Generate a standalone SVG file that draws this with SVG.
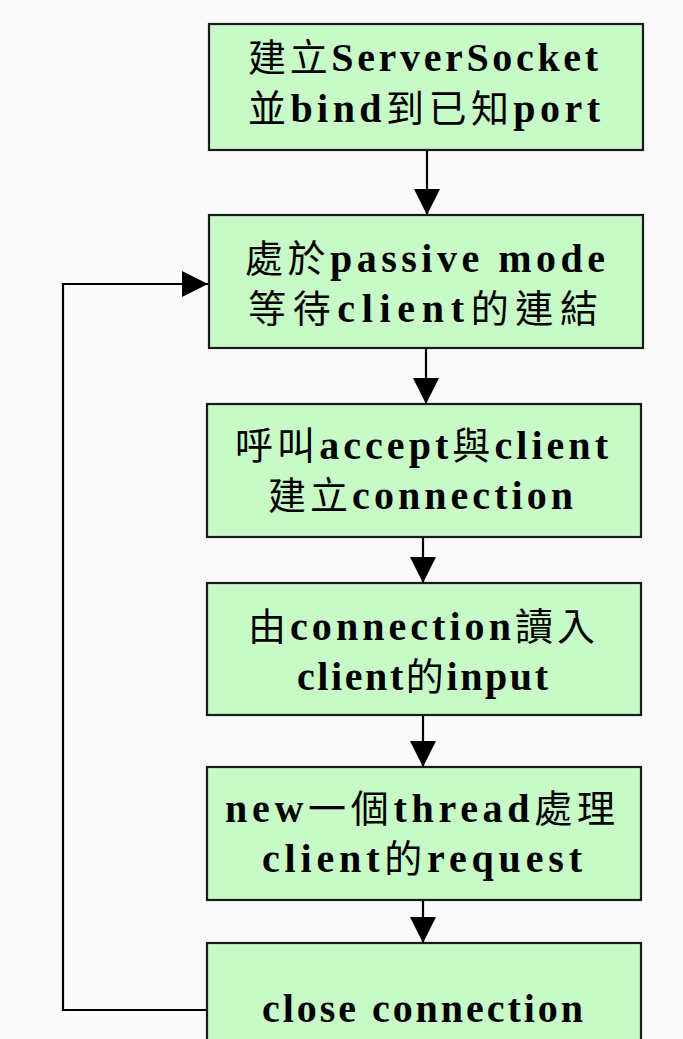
<svg xmlns="http://www.w3.org/2000/svg" width="683" height="1039" viewBox="0 0 683 1039">
<defs>
<style>
.box{fill:#c8fac8;stroke:#1a1a1a;stroke-width:2.2}
.t{fill:#000;font-family:"Liberation Serif","Noto Sans CJK TC",serif}
.lat{font-family:"Liberation Serif",serif;font-weight:bold;font-size:40px}
.cjk{font-family:"Noto Sans CJK TC","Noto Sans CJK SC",sans-serif;font-weight:normal;font-size:38px}
.edge{fill:none;stroke:#000;stroke-width:2.2}
</style>
<marker id="ah" viewBox="0 0 26 26" refX="26" refY="13" markerWidth="26" markerHeight="26" markerUnits="userSpaceOnUse" orient="auto">
<path d="M0,0 L26,13 L0,26 z" fill="#000"/>
</marker>
</defs>
<rect x="0" y="0" width="683" height="1039" fill="#fafafa"/>
<g id="connectors">
<line class="edge" x1="427" y1="150" x2="427" y2="215" marker-end="url(#ah)"/>
<line class="edge" x1="426" y1="348" x2="426" y2="404" marker-end="url(#ah)"/>
<line class="edge" x1="423" y1="537" x2="423" y2="583" marker-end="url(#ah)"/>
<line class="edge" x1="423" y1="715" x2="423" y2="767" marker-end="url(#ah)"/>
<line class="edge" x1="423" y1="900" x2="423" y2="943" marker-end="url(#ah)"/>
<polyline class="edge" points="207,1010 63,1010 63,284 208,284" marker-end="url(#ah)"/>
</g>
<g id="n1">
<rect class="box" x="209" y="24" width="434" height="126"/>
<text class="t" x="248" y="71" textLength="350" lengthAdjust="spacing"><tspan class="cjk">建立</tspan><tspan class="lat">ServerSocket</tspan></text>
<text class="t" x="248" y="122" textLength="352" lengthAdjust="spacing"><tspan class="cjk">並</tspan><tspan class="lat">bind</tspan><tspan class="cjk">到已知</tspan><tspan class="lat">port</tspan></text>
</g>
<g id="n2">
<rect class="box" x="209" y="215" width="434" height="133"/>
<text class="t" x="245" y="272" textLength="360" lengthAdjust="spacing"><tspan class="cjk">處於</tspan><tspan class="lat">passive mode</tspan></text>
<text class="t" x="248" y="322" textLength="350" lengthAdjust="spacing"><tspan class="cjk">等待</tspan><tspan class="lat">client</tspan><tspan class="cjk">的連結</tspan></text>
</g>
<g id="n3">
<rect class="box" x="207" y="404" width="434" height="133"/>
<text class="t" x="235" y="459" textLength="373" lengthAdjust="spacing"><tspan class="cjk">呼叫</tspan><tspan class="lat">accept</tspan><tspan class="cjk">與</tspan><tspan class="lat">client</tspan></text>
<text class="t" x="268" y="509" textLength="305" lengthAdjust="spacing"><tspan class="cjk">建立</tspan><tspan class="lat">connection</tspan></text>
</g>
<g id="n4">
<rect class="box" x="207" y="583" width="434" height="132"/>
<text class="t" x="248" y="640" textLength="347" lengthAdjust="spacing"><tspan class="cjk">由</tspan><tspan class="lat">connection</tspan><tspan class="cjk">讀入</tspan></text>
<text class="t" x="297" y="690" textLength="251" lengthAdjust="spacing"><tspan class="lat">client</tspan><tspan class="cjk">的</tspan><tspan class="lat">input</tspan></text>
</g>
<g id="n5">
<rect class="box" x="207" y="767" width="434" height="133"/>
<text class="t" x="225" y="822" textLength="390" lengthAdjust="spacing"><tspan class="lat">new</tspan><tspan class="cjk">一個</tspan><tspan class="lat">thread</tspan><tspan class="cjk">處理</tspan></text>
<text class="t" x="262" y="872" textLength="320" lengthAdjust="spacing"><tspan class="lat">client</tspan><tspan class="cjk">的</tspan><tspan class="lat">request</tspan></text>
</g>
<g id="n6">
<rect class="box" x="207" y="943" width="434" height="110"/>
<text class="t" x="262" y="1022" textLength="321" lengthAdjust="spacing"><tspan class="lat">close connection</tspan></text>
</g>
</svg>
